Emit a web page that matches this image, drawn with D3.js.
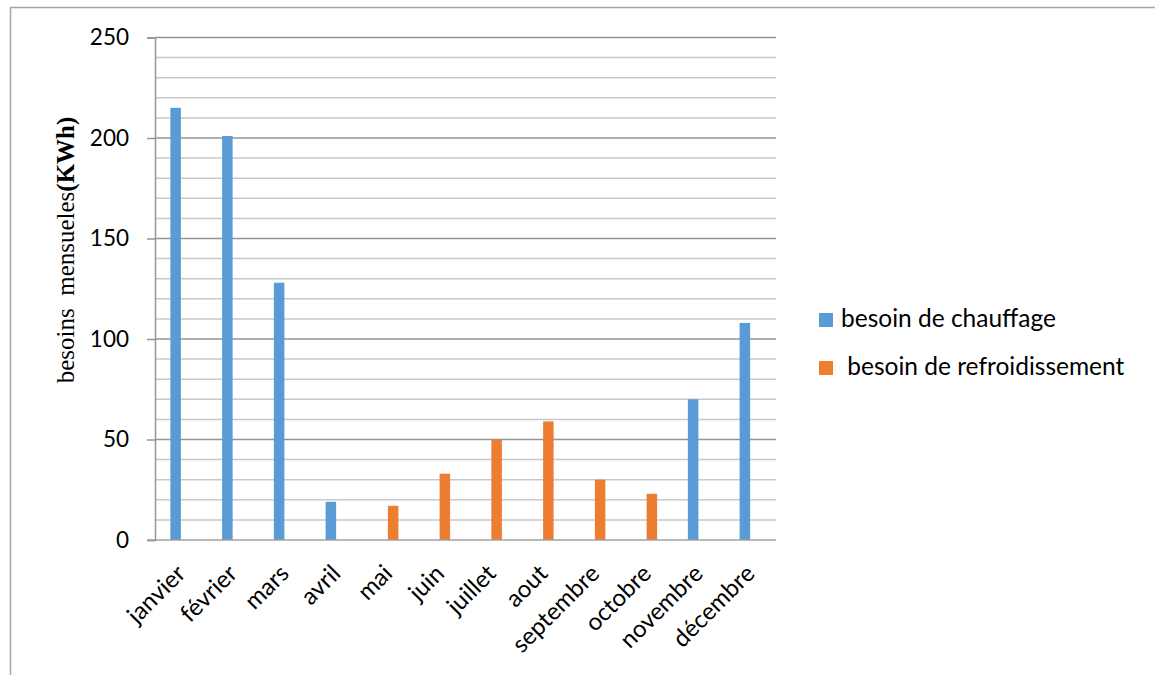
<!DOCTYPE html>
<html>
<head>
<meta charset="utf-8">
<script src="https://cdn.jsdelivr.net/npm/d3@7"></script>
<style>
  body { margin: 0; background: #fff; }
  svg text { fill: #000; }
</style>
</head>
<body>
<svg id="chart" width="1155" height="675"></svg>
<script>
// data
var months = ["janvier", "février", "mars", "avril", "mai", "juin", "juillet", "aout", "septembre", "octobre", "novembre", "décembre"]
var chauffage = [215, 201, 128, 19, 0, 0, 0, 0, 0, 0, 70, 108]
var refroid = [0, 0, 0, 0, 17, 33, 50, 59, 30, 23, 0, 0]
var seriesNames = ["besoin de chauffage", " besoin de refroidissement"]
var colors = ["#5b9bd5", "#ed7d31"]
var yTicks = [0, 50, 100, 150, 200, 250]

var svg = d3.select("#chart")

// outer frame of the picture
svg.append("path")
  .attr("d", "M10.5,675 V7.5 H1155")
  .attr("fill", "none")
  .attr("stroke", "#a6a6a6")
  .attr("stroke-width", 1.5)

var pLeft = 155, pRight = 776, pTop = 37.5, pBottom = 540

var x = d3.scaleBand().domain(months).range([pLeft, pRight])
var y = d3.scaleLinear().domain([0, 250]).range([pBottom, pTop])
var xs = d3.scaleBand().domain([0, 1]).range([0, 21]).padding(0)

var g = svg.append("g")

// minor gridlines every 10
g.selectAll(".minor")
  .data(d3.range(10, 250, 10).filter(v => v % 50 != 0))
  .enter().append("line")
  .attr("x1", pLeft).attr("x2", pRight)
  .attr("y1", d => y(d)).attr("y2", d => y(d))
  .attr("stroke", "#c8c8c8")
  .attr("stroke-width", 1.5)

// major gridlines
g.selectAll(".major")
  .data(yTicks.slice(1))
  .enter().append("line")
  .attr("x1", pLeft).attr("x2", pRight)
  .attr("y1", d => y(d)).attr("y2", d => y(d))
  .attr("stroke", "#959595")
  .attr("stroke-width", 1.5)

// bars
var series = [chauffage, refroid]
series.forEach(function (vals, s) {
  g.selectAll(".bar" + s)
    .data(vals)
    .enter().append("rect")
    .attr("x", (d, i) => x(months[i]) + x.bandwidth() / 2 - 10.5 + xs(s))
    .attr("width", xs.bandwidth())
    .attr("y", d => y(d))
    .attr("height", d => y(0) - y(d))
    .attr("fill", colors[s])
})

// y axis
var yAxis = d3.axisLeft(y).tickValues(yTicks).tickSize(8).tickPadding(18)
var ya = svg.append("g").attr("transform", "translate(" + pLeft + ",0)").call(yAxis)
ya.select(".domain").attr("stroke", "#969696").attr("stroke-width", 1.5)
ya.selectAll(".tick line").attr("stroke", "#969696").attr("stroke-width", 1.5)
ya.selectAll("text")
  .style("font-family", "Lato, sans-serif")
  .style("font-size", "22.5px")
  .attr("fill", "#000")

// x axis baseline
svg.append("line")
  .attr("x1", pLeft - 8).attr("x2", pRight)
  .attr("y1", pBottom).attr("y2", pBottom)
  .attr("stroke", "#a0a0a0")
  .attr("stroke-width", 1.5)

// month labels
svg.selectAll(".month")
  .data(months)
  .enter().append("text")
  .attr("transform", d => "translate(" + (x(d) + x.bandwidth() / 2 + 6) + "," + 575 + ") rotate(-45)")
  .attr("text-anchor", "end")
  .style("font-family", "Lato, sans-serif")
  .style("font-size", "24px")
  .text(d => d)

// y title
var yt = svg.append("text")
  .attr("transform", "translate(74,250) rotate(-90)")
  .attr("text-anchor", "middle")
  .style("font-family", "'Liberation Serif', serif")
  .style("font-size", "25px")
yt.append("tspan").text("besoins\u00a0 mensueles")
yt.append("tspan").style("font-weight", "bold").text("(KWh)")

// legend
var lg = svg.append("g")
seriesNames.forEach(function (name, i) {
  lg.append("rect")
    .attr("x", 819).attr("y", 313 + i * 48)
    .attr("width", 14).attr("height", 14)
    .attr("fill", colors[i])
  lg.append("text")
    .attr("x", 841).attr("y", 327 + i * 48)
    .style("font-family", "Lato, sans-serif")
    .style("font-size", "24.5px")
    .style("white-space", "pre")
    .text(name)
})
</script>
</body>
</html>
